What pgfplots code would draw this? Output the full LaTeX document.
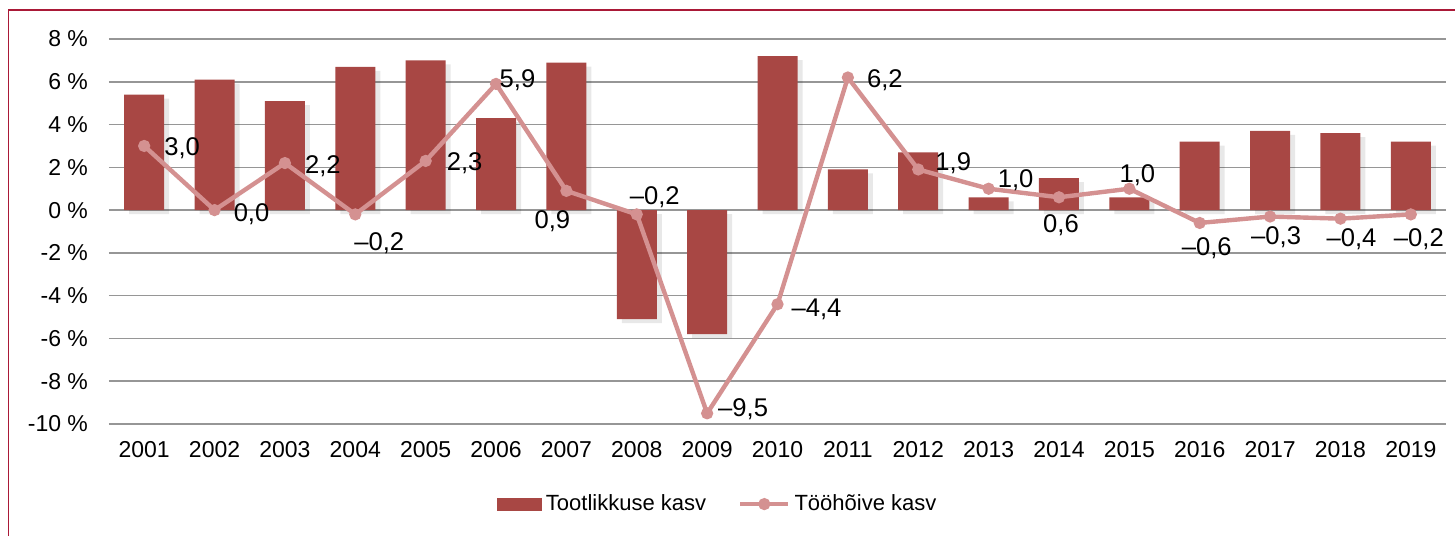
\documentclass[border=0pt]{standalone}
\usepackage{fontspec}
\setmainfont{Liberation Sans}
\usepackage{pgfplots}
\usepackage{pgfplotstable}
\pgfplotsset{compat=1.18}
\definecolor{barc}{RGB}{168,71,68}
\definecolor{linec}{RGB}{212,145,145}
\definecolor{framec}{RGB}{170,25,55}
\definecolor{gridc}{RGB}{150,150,150}

\pgfplotstableread{
x bar line lbl dx dy
0 5.4 3.0 3,0 19 -1
1 6.1 0.0 0,0 18.5 -2
2 5.1 2.2 2,2 19 -1.5
3 6.7 -0.2 –0,2 12 -14.5
4 7.0 2.3 2,3 19.5 -1
5 4.3 5.9 5,9 10.75 2
6 6.9 0.9 0,9 -7 -15
7 -5.1 -0.2 –0,2 9 8.5
8 -5.8 -9.5 –9,5 18 2
9 7.2 -4.4 –4,4 19.5 -2.5
10 1.9 6.2 6,2 18.5 -1.5
11 2.7 1.9 1,9 17.5 3
12 0.6 1.0 1,0 13.5 4.5
13 1.5 0.6 0,6 1 -14
14 0.6 1.0 1,0 4 7
15 3.2 -0.6 –0,6 3.5 -12.5
16 3.7 -0.3 –0,3 3 -10.5
17 3.6 -0.4 –0,4 5.5 -10.5
18 3.2 -0.2 –0,2 4 -12.5
}\datatable

\begin{document}
\begin{tikzpicture}
\useasboundingbox (0,0) rectangle (727.5pt,-268pt);
\draw[framec, line width=0.8pt] (4.2pt,-268pt) -- (4.2pt,-5pt) -- (727.5pt,-5pt);
\begin{axis}[
  at={(54.5pt,-212pt)}, anchor=south west,
  scale only axis, width=668.5pt, height=192.5pt,
  xmin=-0.5, xmax=18.5, ymin=-10, ymax=8,
  ytick={-10,-8,-6,-4,-2,0,2,4,6,8},
  xtick={0,...,18},
  xticklabels={2001,2002,2003,2004,2005,2006,2007,2008,2009,2010,2011,2012,2013,2014,2015,2016,2017,2018,2019},
  ymajorgrids, grid style={gridc, line width=0.8pt},
  axis line style={draw=none},
  major tick length=0pt,
  tick label style={font=\fontsize{11.5}{13}\selectfont, text=black},
  /pgf/number format/assume math mode=true,
  yticklabel={\pgfmathprintnumber{\tick} \%},
  yticklabel style={xshift=-7pt},
  xticklabel style={yshift=-5pt},
  clip=false,
  legend style={at={(0.456,-0.208)}, anchor=center, draw=none, fill=none,
    font=\fontsize{11}{13}\selectfont, inner sep=0pt,
    /tikz/every even column/.append style={column sep=14pt}},
  legend columns=2, legend cell align=left,
]
\addplot[ybar, bar width=20pt, fill=black, fill opacity=0.09, draw=none, bar shift=2.5pt, forget plot,
  yshift=-2pt] table[x=x,y=bar]{\datatable};
\addplot[ybar, bar width=20pt, fill=barc, draw=none,
  legend image code/.code={\fill[barc] (0pt,-3.25pt) rectangle (22.5pt,3.25pt);}]
  table[x=x,y=bar]{\datatable};
\addlegendentry{Tootlikkuse kasv}
\addplot[linec, line width=2.2pt, mark=*, mark size=1.9pt, mark options={fill=linec, draw=none},
  point meta=explicit symbolic,
  nodes near coords={\pgfplotspointmeta},
  visualization depends on={\thisrow{dx}\as\dx},
  visualization depends on={\thisrow{dy}\as\dy},
  nodes near coords style={anchor=center, xshift=\dx pt, yshift=\dy pt,
    font=\fontsize{12.8}{15}\selectfont, text=black},
  legend image code/.code={\draw[linec, line width=2.2pt] (0pt,0pt) -- (24pt,0pt);
    \fill[linec] (12pt,0pt) circle (1.9pt);}]
  table[x=x, y=line, meta=lbl]{\datatable};
\addlegendentry{Tööhõive kasv}
\end{axis}
\end{tikzpicture}
\end{document}
